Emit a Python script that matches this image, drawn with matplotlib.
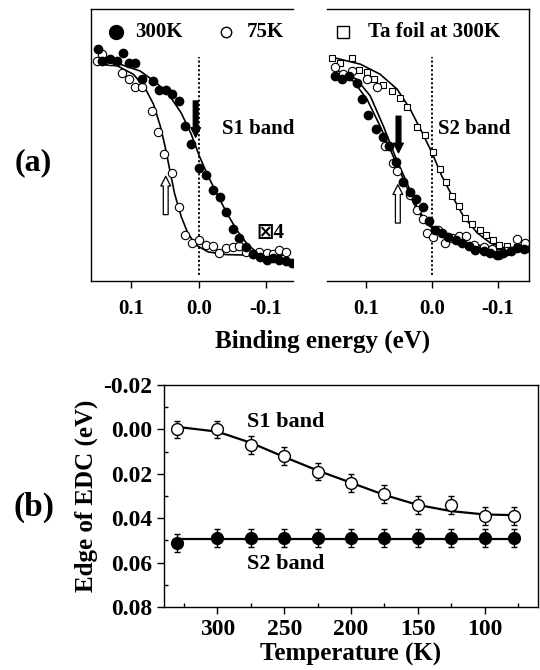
import numpy as np
import matplotlib
matplotlib.use('Agg')
import matplotlib.pyplot as plt

plt.rcParams['font.family'] = ['Liberation Serif', 'DejaVu Serif']
plt.rcParams['font.weight'] = 'bold'
plt.rcParams['axes.labelweight'] = 'bold'

# ── Panel (a), left: S1 band EDCs ─────────────────────────────────────────────
s1_300_x = [0.150, 0.143, 0.132, 0.122, 0.113, 0.104, 0.094, 0.084, 0.0675, 0.059,
            0.049, 0.039, 0.029, 0.021, 0.011, 0.000, -0.011, -0.021, -0.031, -0.041,
            -0.051, -0.060, -0.071, -0.081, -0.091, -0.101, -0.110, -0.120, -0.130, -0.139]
s1_300_y = [0.852, 0.809, 0.816, 0.809, 0.837, 0.800, 0.800, 0.741, 0.735, 0.702,
            0.702, 0.686, 0.661, 0.569, 0.505, 0.415, 0.390, 0.336, 0.309, 0.253,
            0.190, 0.157, 0.124, 0.099, 0.087, 0.077, 0.083, 0.077, 0.074, 0.067]
s1_75_x = [0.151, 0.143, 0.132, 0.114, 0.104, 0.095, 0.084, 0.070, 0.061, 0.052,
           0.039, 0.029, 0.020, 0.010, 0.000, -0.011, -0.021, -0.030, -0.040, -0.051,
           -0.060, -0.071, -0.080, -0.090, -0.101, -0.110, -0.120, -0.130]
s1_75_y = [0.809, 0.833, 0.809, 0.764, 0.741, 0.714, 0.714, 0.625, 0.547, 0.468,
           0.397, 0.272, 0.170, 0.139, 0.149, 0.133, 0.129, 0.102, 0.120, 0.126,
           0.129, 0.108, 0.099, 0.108, 0.102, 0.099, 0.114, 0.105]
fit1_300_x = [0.146, 0.117, 0.087, 0.063, 0.043, 0.026, 0.011, -0.001, -0.014, -0.029,
              -0.043, -0.058, -0.073, -0.091, -0.110, -0.139]
fit1_300_y = [0.809, 0.797, 0.772, 0.729, 0.680, 0.618, 0.539, 0.459, 0.385, 0.311,
              0.244, 0.182, 0.133, 0.096, 0.080, 0.071]
fit1_75_x = [0.151, 0.121, 0.097, 0.080, 0.067, 0.057, 0.050, 0.043, 0.036, 0.026,
             0.016, 0.004, -0.014, -0.041, -0.075, -0.130]
fit1_75_y = [0.797, 0.791, 0.760, 0.711, 0.649, 0.569, 0.495, 0.409, 0.323, 0.237,
             0.175, 0.132, 0.107, 0.097, 0.095, 0.095]

# ── Panel (a), right: S2 band EDCs + Ta foil ──────────────────────────────────
ta_x = [0.153, 0.140, 0.122, 0.111, 0.099, 0.088, 0.074, 0.061, 0.048, 0.038,
        0.023, 0.010, -0.001, -0.012, -0.022, -0.031, -0.041, -0.051, -0.061, -0.073,
        -0.083, -0.093, -0.103, -0.114, -0.130, -0.144]
ta_y = [0.818, 0.803, 0.818, 0.776, 0.769, 0.742, 0.720, 0.699, 0.674, 0.641,
        0.567, 0.535, 0.473, 0.412, 0.363, 0.314, 0.277, 0.231, 0.210, 0.188,
        0.170, 0.151, 0.133, 0.127, 0.124, 0.117]
fit_ta_x = [0.153, 0.109, 0.079, 0.053, 0.033, 0.015, 0.000, -0.015, -0.031, -0.048,
            -0.069, -0.089, -0.109, -0.145]
fit_ta_y = [0.823, 0.797, 0.760, 0.705, 0.631, 0.546, 0.472, 0.386, 0.312, 0.238,
            0.177, 0.140, 0.122, 0.114]
s2_300_x = [0.148, 0.137, 0.127, 0.115, 0.107, 0.098, 0.085, 0.074, 0.066, 0.055,
            0.044, 0.034, 0.024, 0.014, 0.004, -0.005, -0.015, -0.025, -0.036, -0.046,
            -0.056, -0.066, -0.079, -0.089, -0.099, -0.109, -0.120, -0.130, -0.140]
s2_300_y = [0.754, 0.744, 0.752, 0.729, 0.668, 0.609, 0.557, 0.530, 0.496, 0.437,
            0.363, 0.326, 0.301, 0.272, 0.222, 0.188, 0.176, 0.161, 0.151, 0.139,
            0.129, 0.114, 0.112, 0.102, 0.096, 0.102, 0.112, 0.121, 0.117]
s2_75_x = [0.148, 0.135, 0.122, 0.099, 0.084, 0.071, 0.060, 0.053, 0.044, 0.033,
           0.023, 0.014, 0.008, -0.001, -0.010, -0.020, -0.031, -0.042, -0.052, -0.064,
           -0.079, -0.092, -0.103, -0.115, -0.130, -0.142]
s2_75_y = [0.785, 0.760, 0.772, 0.742, 0.715, 0.496, 0.434, 0.403, 0.365, 0.317,
           0.262, 0.228, 0.176, 0.161, 0.186, 0.141, 0.158, 0.166, 0.164, 0.133,
           0.124, 0.117, 0.096, 0.112, 0.154, 0.139]
fit2_300_x = [0.150, 0.120, 0.099, 0.079, 0.059, 0.043, 0.028, 0.013, -0.008, -0.038,
              -0.079, -0.140]
fit2_300_y = [0.760, 0.735, 0.668, 0.569, 0.458, 0.372, 0.286, 0.225, 0.176, 0.144,
              0.120, 0.108]
fit2_75_x = [0.150, 0.115, 0.094, 0.074, 0.056, 0.038, 0.023, 0.008, -0.013, -0.043,
             -0.084, -0.140]
fit2_75_y = [0.779, 0.742, 0.680, 0.569, 0.458, 0.360, 0.274, 0.213, 0.170, 0.144,
             0.126, 0.120]

# ── Panel (b): edge of EDC vs temperature ─────────────────────────────────────
temp = [330, 300, 275, 250, 225, 200, 175, 150, 125, 100, 78]
edge_s1 = [0.000, 0.000, 0.007, 0.012, 0.019, 0.024, 0.029, 0.034, 0.034, 0.039, 0.039]
edge_s2 = [0.051, 0.049, 0.049, 0.049, 0.049, 0.049, 0.049, 0.049, 0.049, 0.049, 0.049]
edge_err = [0.004] * 11
fit_s1_t = [328, 300, 275, 250, 225, 200, 175, 150, 125, 100, 78]
fit_s1_y = [-0.001, 0.001, 0.006, 0.0124, 0.0185, 0.024, 0.0295, 0.034, 0.0368, 0.0383, 0.0386]
fit_s2_t = [328, 78]
fit_s2_y = [0.0495, 0.0495]

MS = 6
FT = 15

fig = plt.figure(figsize=(5.4, 6.7), dpi=100)
axL = fig.add_axes([0.1685, 0.5806, 0.374, 0.406])
axR = fig.add_axes([0.6056, 0.5806, 0.374, 0.406])
axB = fig.add_axes([0.3037, 0.094, 0.6926, 0.3313])


def style_a(ax, xlim):
    ax.set_xlim(*xlim)
    ax.set_ylim(0, 1)
    ax.set_yticks([])
    ax.set_xticks([0.1, 0.0, -0.1])
    ax.set_xticklabels(['0.1', '0.0', '-0.1'])
    ax.tick_params(axis='x', direction='out', length=5, width=1, labelsize=FT, pad=8)
    for sp in ax.spines.values():
        sp.set_linewidth(1)
    ax.axvline(0, ymin=0.022, ymax=0.823, color='k', ls=(0, (1.2, 1.2)), lw=1.3)


def arrow(ax, x, y0, y1, filled, tw):
    ax.annotate('', xy=(x, y1), xytext=(x, y0),
                arrowprops=dict(arrowstyle=f'simple,head_length=0.7,head_width=0.7,tail_width={tw}',
                                fc='k' if filled else 'white', ec='k', lw=0.9,
                                shrinkA=0, shrinkB=0))


# left panel
style_a(axL, (0.16, -0.14))
axL.spines['right'].set_visible(False)
axL.plot(fit1_300_x, fit1_300_y, 'k-', lw=1.2)
axL.plot(fit1_75_x, fit1_75_y, 'k-', lw=1.2)
axL.plot(s1_75_x, s1_75_y, 'o', ms=MS, mfc='white', mec='k', mew=0.8)
axL.plot(s1_300_x, s1_300_y, 'o', ms=MS, mfc='k', mec='k')
arrow(axL, 0.0045, 0.662, 0.528, True, 0.35)
arrow(axL, 0.049, 0.244, 0.385, False, 0.35)
axL.text(-0.034, 0.557, 'S1 band', fontsize=FT, va='center', ha='left')
axL.text(-0.086, 0.177, '\u22a04', fontsize=FT, va='center', ha='left',
         family=['Liberation Serif', 'DejaVu Sans'])
axL.plot([0.123], [0.915], 'o', ms=10, mfc='k', mec='k', clip_on=False)
axL.text(0.0945, 0.915, '300K', fontsize=FT, va='center', ha='left')
axL.plot([-0.041], [0.915], 'o', ms=7.5, mfc='white', mec='k', mew=1, clip_on=False)
axL.text(-0.072, 0.915, '75K', fontsize=FT, va='center', ha='left')

# right panel
style_a(axR, (0.16, -0.148))
axR.spines['left'].set_visible(False)
axR.plot(fit_ta_x, fit_ta_y, 'k-', lw=1.2)
axR.plot(fit2_300_x, fit2_300_y, 'k-', lw=1.2)
axR.plot(fit2_75_x, fit2_75_y, 'k-', lw=1.2)
axR.plot(ta_x, ta_y, 's', ms=5, mfc='white', mec='k', mew=0.8)
axR.plot(s2_75_x, s2_75_y, 'o', ms=MS, mfc='white', mec='k', mew=0.8)
axR.plot(s2_300_x, s2_300_y, 'o', ms=MS, mfc='k', mec='k')
arrow(axR, 0.051, 0.606, 0.471, True, 0.35)
arrow(axR, 0.052, 0.213, 0.354, False, 0.35)
axR.text(-0.01, 0.557, 'S2 band', fontsize=FT, va='center', ha='left')
axR.plot([0.136], [0.915], 's', ms=8.5, mfc='white', mec='k', mew=1, clip_on=False)
axR.text(0.097, 0.915, 'Ta foil at 300K', fontsize=FT, va='center', ha='left')

fig.text(0.597, 0.49, 'Binding energy (eV)', fontsize=18, ha='center', va='center')
fig.text(0.061, 0.757, '(a)', fontsize=23, ha='center', va='center')

# panel (b)
axB.plot(fit_s1_t, fit_s1_y, 'k-', lw=1.6)
axB.plot(fit_s2_t, fit_s2_y, 'k-', lw=1.6)
axB.errorbar(temp, edge_s1, yerr=edge_err, fmt='o', ms=8.5, mfc='white', mec='k',
             mew=1, ecolor='k', elinewidth=1, capsize=2.5, capthick=1)
axB.errorbar(temp, edge_s2, yerr=edge_err, fmt='o', ms=8.5, mfc='k', mec='k',
             ecolor='k', elinewidth=1, capsize=2.5, capthick=1)
axB.set_xlim(340, 60)
axB.set_ylim(0.08, -0.02)
axB.set_xticks([300, 250, 200, 150, 100])
axB.set_xticks([325, 275, 225, 175, 125, 75], minor=True)
axB.set_yticks([-0.02, 0.00, 0.02, 0.04, 0.06, 0.08])
axB.set_yticklabels(['-0.02', '0.00', '0.02', '0.04', '0.06', '0.08'])
axB.set_yticks([-0.01, 0.01, 0.03, 0.05, 0.07], minor=True)
axB.tick_params(which='major', direction='out', length=5, width=1, labelsize=17)
axB.tick_params(which='minor', direction='in', length=3, width=1)
for sp in axB.spines.values():
    sp.set_linewidth(1)
axB.text(278, -0.0033, 'S1 band', fontsize=16, va='center', ha='left')
axB.text(278, 0.0606, 'S2 band', fontsize=16, va='center', ha='left')
axB.set_xlabel('Temperature (K)', fontsize=18, labelpad=2)
axB.set_ylabel('Edge of EDC (eV)', fontsize=18, labelpad=4)
fig.text(0.063, 0.243, '(b)', fontsize=24, ha='center', va='center')

fig.savefig('out.png', dpi=100)
